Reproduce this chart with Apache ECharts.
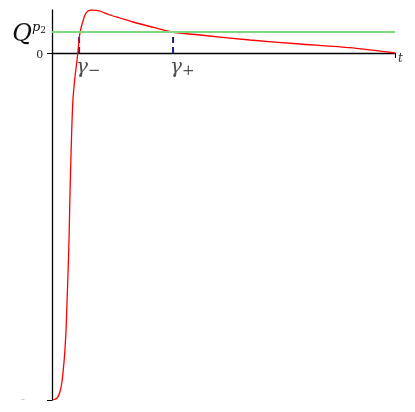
<!DOCTYPE html>
<html lang="en">
<head>
    <meta charset="UTF-8">
    <title>Q^p2 curve</title>
    <script type="text/javascript" src="https://cdn.jsdelivr.net/npm/echarts@6.0.0/dist/echarts.min.js"></script>
</head>
<body style="margin:0;">
<div id="main" style="width:415px;height:412px;"></div>
<script type="text/javascript">
    // values: t in [0, 1], y in arbitrary units
    const curveT = [0.003, 0.015, 0.023, 0.029, 0.035, 0.038, 0.041, 0.044, 0.047, 0.050, 0.052, 0.055, 0.058, 0.061,
        0.067, 0.073, 0.079, 0.082, 0.087, 0.096, 0.105, 0.117, 0.131, 0.140, 0.169, 0.198, 0.236, 0.286, 0.350,
        0.431, 0.577, 0.723, 0.869, 1.0];
    const curveY = [-34.7, -34.5, -33.9, -32.9, -30.9, -29.5, -27.7, -24.7, -21.7, -18.2, -14.7, -10.7, -7.2, -4.7,
        -2.4, -0.7, 1.3, 2.1, 2.8, 3.8, 4.2, 4.3, 4.25, 4.2, 3.8, 3.5, 3.1, 2.65, 2.1,
        1.8, 1.3, 0.9, 0.53, 0];
    const qLevel = 2.1;
    const gammaT = [0.079, 0.353];
    const gammaNames = ['−', '+'];
    const yTickValues = [-34.7, 0];
    const yTickLabels = ['-', '0'];
    const xRange = [0, 1];

    const myChart = echarts.init(document.getElementById('main'));
    const serif = 'DejaVu Serif';

    const curveData = curveT.map((t, i) => [t, curveY[i]]);

    // dashed verticals from the axis up to Q level
    const dashSeries = gammaT.map(t => ({
        type: 'line',
        data: [[t, 0], [t, qLevel]],
        symbol: 'none',
        lineStyle: {color: '#1c1c8a', width: 2, type: [6, 4]},
        z: 3
    }));

    const option = {
        backgroundColor: '#fff',
        animation: false,
        grid: {left: 52, right: 20, top: 10, bottom: 12},
        xAxis: {
            type: 'value',
            min: xRange[0],
            max: xRange[1],
            interval: 1,
            splitLine: {show: false},
            axisLine: {onZero: true, lineStyle: {color: '#000', width: 1.3}},
            axisTick: {show: true, length: 5, lineStyle: {color: '#000'}},
            axisLabel: {show: false},
            name: 't',
            nameLocation: 'end',
            nameGap: 3,
            nameTextStyle: {
                fontFamily: serif, fontStyle: 'italic', fontSize: 12, color: '#333',
                verticalAlign: 'top', padding: [0, 0, 0, 0]
            }
        },
        yAxis: {
            type: 'value',
            min: yTickValues[0],
            max: 4.3,
            splitLine: {show: false},
            axisLine: {onZero: false, lineStyle: {color: '#000', width: 1.3}},
            axisTick: {show: true, length: 5, customValues: yTickValues, lineStyle: {color: '#000'}},
            axisLabel: {
                customValues: yTickValues,
                margin: 9,
                formatter: v => (v === 0 ? '{z|' : '{m|') + yTickLabels[yTickValues.indexOf(v)] + '}',
                rich: {
                    z: {fontFamily: 'Liberation Serif', fontSize: 13, color: '#222', padding: [4, 0, 0, 0]},
                    m: {fontFamily: 'Liberation Serif', fontSize: 12, color: '#ccc', padding: [0, 18, 0, 0]}
                }
            }
        },
        series: [
            {
                type: 'line',
                data: curveData,
                symbol: 'none',
                smooth: 0.2,
                lineStyle: {color: '#ff0000', width: 1.3},
                z: 4,
                markLine: {
                    silent: true,
                    symbol: 'none',
                    lineStyle: {color: '#80d880', width: 2, type: 'solid'},
                    label: {
                        show: true,
                        position: 'start',
                        distance: 6,
                        formatter: '{q|Q}{p|p}{s|2}',
                        rich: {
                            q: {fontFamily: serif, fontStyle: 'italic', fontSize: 24, color: '#111', padding: [6, 0, 0, 0]},
                            p: {fontFamily: serif, fontStyle: 'italic', fontSize: 13, color: '#111', padding: [0, 0, 8, 0]},
                            s: {fontFamily: serif, fontSize: 9, color: '#111', padding: [0, 0, 3, 0]}
                        }
                    },
                    data: [{yAxis: qLevel}]
                }
            },
            ...dashSeries,
            {
                type: 'scatter',
                symbolSize: 0,
                data: gammaT.map((t, i) => ({value: [t, 0], name: gammaNames[i]})),
                label: {
                    show: true,
                    position: [-3, 3],
                    align: 'left',
                    verticalAlign: 'top',
                    formatter: p => '{g|γ}{s|' + p.name + '}',
                    rich: {
                        g: {fontFamily: serif, fontStyle: 'italic', fontSize: 20, color: '#222'},
                        s: {fontFamily: serif, fontSize: 15, color: '#222', padding: [8, 0, 0, 0]}
                    }
                },
                z: 5
            }
        ]
    };

    myChart.setOption(option);
</script>
</body>
</html>
